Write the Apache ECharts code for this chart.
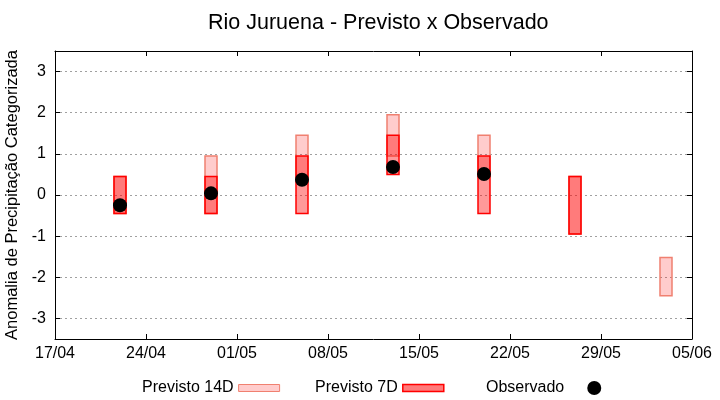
<!DOCTYPE html>
<html>
<head>
<meta charset="utf-8">
<script src="https://cdn.jsdelivr.net/npm/echarts@6/dist/echarts.min.js"></script>
<style>html,body{margin:0;padding:0;background:#fff}#c{width:720px;height:400px}</style>
</head>
<body>
<div id="c"></div>
<script>
// ---- data ----
var startDate = '2024-04-17';
var dates = ['2024-04-22','2024-04-29','2024-05-06','2024-05-13','2024-05-20','2024-05-27','2024-06-03'];
var prev14Low  = [-0.45, -0.45, 0.45, 0.95, 0.45, -0.95, -2.45];
var prev14High = [ 0.45,  0.95, 1.45, 1.95, 1.45,  0.45, -1.52];
var prev7Low   = [-0.45, -0.45, -0.45, 0.50, -0.45, -0.95, null];
var prev7High  = [ 0.45,  0.45,  0.95, 1.45,  0.95,  0.45, null];
var observed   = [-0.25, 0.04, 0.37, 0.68, 0.51, null, null];
var xTickLabels = ['17/04','24/04','01/05','08/05','15/05','22/05','29/05','05/06'];
var yTickLabels = ['-3','-2','-1','0','1','2','3'];

var FONT = 'Liberation Sans';
function dayOf(d){ return (Date.parse(d) - Date.parse(startDate)) / 864e5; }
var xs = dates.map(dayOf);

function boxData(lo, hi){
  var out = [];
  for (var i = 0; i < xs.length; i++) if (lo[i] != null && hi[i] != null) out.push([xs[i], lo[i], hi[i]]);
  return out;
}
var obsData = [];
for (var i = 0; i < xs.length; i++) if (observed[i] != null) obsData.push([xs[i], observed[i]]);

function boxRenderer(fill, stroke, lw){
  return function(params, api){
    var x = api.value(0), lo = api.value(1), hi = api.value(2);
    var p1 = api.coord([x, hi]), p2 = api.coord([x, lo]);
    return { type: 'rect',
      shape: { x: p1[0] - 6, y: p1[1], width: 12, height: p2[1] - p1[1] },
      style: { fill: fill, stroke: stroke, lineWidth: lw } };
  };
}

var chart = echarts.init(document.getElementById('c'), null, {renderer: 'canvas'});
var axisBase = { type: 'value', axisLine: { show: true, onZero: false, lineStyle: { color: '#000', width: 1 } } };
var tickStyle = { show: true, inside: true, length: 5, lineStyle: { color: '#000' } };
chart.setOption({
  animation: false,
  textStyle: { fontFamily: FONT },
  title: { text: 'Rio Juruena - Previsto x Observado', left: 203, top: 7,
    textStyle: { fontFamily: FONT, fontSize: 21.5, fontWeight: 'normal', color: '#000' } },
  grid: { left: 55, right: 28, top: 51, bottom: 61, outerBoundsMode: 'none', containLabel: false },
  legend: [
    { left: 137, top: 375, itemWidth: 41, itemHeight: 7, itemGap: 35, align: 'right', selectedMode: false,
      textStyle: { fontFamily: FONT, fontSize: 16, color: '#000' },
      data: [
        { name: 'Previsto 14D', icon: 'rect', itemStyle: { color: '#ffcccc', borderColor: '#f08070', borderWidth: 1 } },
        { name: 'Previsto 7D', icon: 'rect', itemStyle: { color: '#ff7a7a', borderColor: '#ff0000', borderWidth: 1.5 } }
      ] },
    { left: 481, top: 375, itemWidth: 14, itemHeight: 14, align: 'right', selectedMode: false,
      textStyle: { fontFamily: FONT, fontSize: 16, color: '#000', padding: [0, 18, 0, 0] },
      data: [ { name: 'Observado', icon: 'circle', itemStyle: { color: '#000', opacity: 1 } } ] }
  ],
  xAxis: [
    Object.assign({}, axisBase, { position: 'bottom', min: 0, max: 49, interval: 7,
      axisTick: tickStyle,
      axisLabel: { fontFamily: FONT, fontSize: 16, color: '#000', margin: 7,
        formatter: function(v){ return xTickLabels[Math.round(v / 7)] || ''; } },
      splitLine: { show: false } }),
    Object.assign({}, axisBase, { position: 'top', min: 0, max: 49, interval: 7,
      axisTick: tickStyle, axisLabel: { show: false }, splitLine: { show: false } })
  ],
  yAxis: [
    Object.assign({}, axisBase, { position: 'left', min: -3.5, max: 3.5, splitNumber: 7,
      name: 'Anomalia de Precipitação Categorizada', nameLocation: 'middle', nameGap: 26,
      nameTextStyle: { fontFamily: FONT, fontSize: 16.5, color: '#000' },
      axisTick: tickStyle,
      axisLabel: { fontFamily: FONT, fontSize: 16, color: '#000', margin: 9, showMinLabel: false, showMaxLabel: false,
        formatter: function(v){ var k = yTickLabels.indexOf(String(v)); return k >= 0 ? yTickLabels[k] : ''; } },
      splitLine: { show: true, lineStyle: { color: '#a0a0a0', width: 1, type: [2, 3] } } }),
    Object.assign({}, axisBase, { position: 'right', min: -3.5, max: 3.5, splitNumber: 7,
      axisTick: tickStyle, axisLabel: { show: false }, splitLine: { show: false } })
  ],
  series: [
    { name: 'Previsto 14D', type: 'custom', data: boxData(prev14Low, prev14High),
      encode: { x: 0, y: [1, 2] }, renderItem: boxRenderer('rgba(255,0,0,0.2)', '#f08070', 1.5), z: 2,
      itemStyle: { color: '#ffcccc' } },
    { name: 'Previsto 7D', type: 'custom', data: boxData(prev7Low, prev7High),
      encode: { x: 0, y: [1, 2] }, renderItem: boxRenderer('rgba(255,0,0,0.4)', '#ff0000', 1.5), z: 3,
      itemStyle: { color: '#ff7a7a' } },
    { name: 'Observado', type: 'scatter', data: obsData, symbol: 'circle', symbolSize: 14,
      itemStyle: { color: '#000', opacity: 1 }, z: 5 }
  ]
});
</script>
</body>
</html>
